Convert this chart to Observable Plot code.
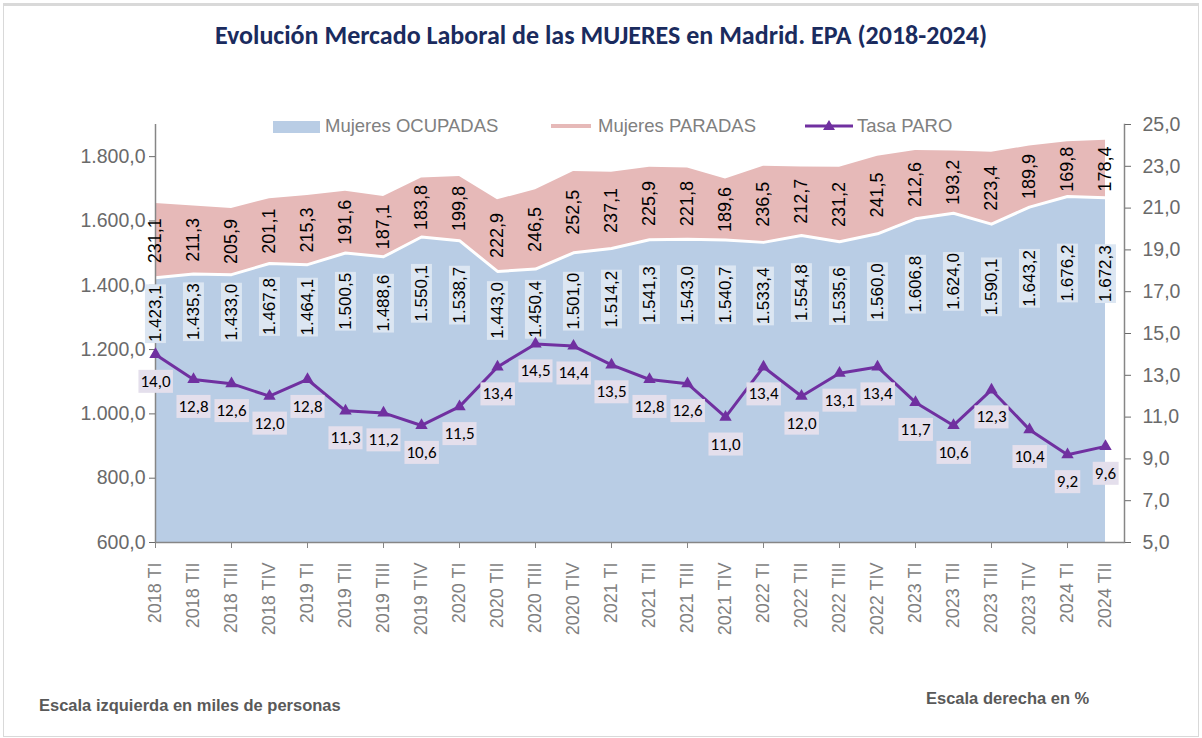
<!DOCTYPE html>
<html>
<head>
<meta charset="utf-8">
<script src="https://cdn.jsdelivr.net/npm/d3@7"></script>
<script src="https://cdn.jsdelivr.net/npm/@observablehq/plot@0.6"></script>
<style>
  body { margin: 0; background: #fff; }
  #wrap { position: relative; width: 1202px; height: 738px; overflow: hidden; font-family: "Liberation Sans", Arial, sans-serif; }
  #border { position: absolute; left: 3px; top: 3px; width: 1196px; height: 734px; box-sizing: border-box; border: 1px solid #d9d9d9; border-top: 3px solid #d9d9d9; }
  #chart { position: absolute; left: 0; top: 0; }
  #title { position: absolute; top: 19px; left: 0; width: 1202px; text-align: center; font-family: Carlito, Lato, "Open Sans", sans-serif; font-weight: bold; font-size: 26px; color: #1a2b5e; }
  .leg { position: absolute; top: 115px; font-size: 18.5px; color: #808080; white-space: nowrap; }
  .cap { position: absolute; font-weight: bold; font-size: 16.5px; color: #595959; }
</style>
</head>
<body>
<div id="wrap">
  <div id="border"></div>
  <div id="chart"></div>
  <div id="title">Evolución Mercado Laboral de las MUJERES en Madrid. EPA (2018-2024)</div>
  <svg class="leg" style="left:273px;top:121px" width="47" height="12"><rect width="47" height="12" fill="#b9cde5"/></svg>
  <div class="leg" style="left:325px">Mujeres OCUPADAS</div>
  <svg class="leg" style="left:551px;top:124px" width="40" height="5"><rect width="40" height="4" fill="#e6b9b8"/></svg>
  <div class="leg" style="left:598px">Mujeres PARADAS</div>
  <svg class="leg" style="left:805px;top:119px" width="48" height="14"><line x1="0" x2="48" y1="7" y2="7" stroke="#7030a0" stroke-width="3"/><path d="M24,1 L30,11 L18,11 Z" fill="#7030a0"/></svg>
  <div class="leg" style="left:857px">Tasa PARO</div>
  <div class="cap" style="left:39px;top:696px">Escala izquierda en miles de personas</div>
  <div class="cap" style="left:926px;top:689px">Escala derecha en %</div>
</div>
<script>
const periods = ["2018 TI","2018 TII","2018 TIII","2018 TIV",
  "2019 TI","2019 TII","2019 TIII","2019 TIV",
  "2020 TI","2020 TII","2020 TIII","2020 TIV",
  "2021 TI","2021 TII","2021 TIII","2021 TIV",
  "2022 TI","2022 TII","2022 TIII","2022 TIV",
  "2023 TI","2023 TII","2023 TIII","2023 TIV",
  "2024 TI","2024 TII"];
const ocupadas = [1423.1,1435.3,1433.0,1467.8,1464.1,1500.5,1488.6,1550.1,1538.7,1443.0,1450.4,1501.0,1514.2,1541.3,1543.0,1540.7,1533.4,1554.8,1535.6,1560.0,1606.8,1624.0,1590.1,1643.2,1676.2,1672.3];
const paradas = [231.1,211.3,205.9,201.1,215.3,191.6,187.1,183.8,199.8,222.9,246.5,252.5,237.1,225.9,221.8,189.6,236.5,212.7,231.2,241.5,212.6,193.2,223.4,189.9,169.8,178.4];
const tasaParo = [14.0,12.8,12.6,12.0,12.8,11.3,11.2,10.6,11.5,13.4,14.5,14.4,13.5,12.8,12.6,11.0,13.4,12.0,13.1,13.4,11.7,10.6,12.3,10.4,9.2,9.6];
const leftTicks = [600,800,1000,1200,1400,1600,1800];
const rightTicks = [5,7,9,11,13,15,17,19,21,23,25];
const leftDomain = [600,1900];
const rightDomain = [5,25];
const seriesNames = ["Mujeres OCUPADAS","Mujeres PARADAS"];

const fmt = d3.formatLocale({decimal: ",", thousands: ".", grouping: [3], currency: ["", "€"]}).format(",.1f");
const rows = periods.map((p, i) => ({period: p, ocup: ocupadas[i], par: paradas[i], tasa: tasaParo[i]}));
const long = rows.flatMap(d => [
  {period: d.period, serie: seriesNames[0], value: d.ocup},
  {period: d.period, serie: seriesNames[1], value: d.par}
]);
const yT = d3.scaleLinear(rightDomain, leftDomain);

const chart = Plot.plot({
  width: 1202, height: 738,
  marginTop: 124, marginBottom: 196, marginLeft: 155, marginRight: 78,
  style: {fontFamily: "'Liberation Sans', Arial, sans-serif", background: "transparent", color: "#6a6a6a"},
  x: {type: "point", domain: periods, padding: 0, insetRight: 19, label: null},
  y: {domain: leftDomain, label: null},
  color: {domain: seriesNames, range: ["#b9cde5", "#e6b9b8"]},
  marks: [
    Plot.areaY(long, {x: "period", y: "value", fill: "serie", order: seriesNames, clip: true}),
    Plot.lineY(rows, {x: "period", y: "ocup", stroke: "white", strokeWidth: 3}),
    Plot.ruleY([leftDomain[0]], {stroke: "#868686", strokeWidth: 1.5}),
    Plot.ruleX([periods[0]], {stroke: "#868686", strokeWidth: 1.5}),
    Plot.frame({anchor: "right", stroke: "#868686", strokeWidth: 1.5}),
    Plot.axisY(leftTicks, {anchor: "left", label: null, tickFormat: fmt, tickSize: 6, tickPadding: 4, fontSize: 19.5, color: "#6a6a6a"}),
    Plot.axisY(rightTicks.map(yT), {anchor: "right", label: null, tickFormat: d => fmt(yT.invert(d)), tickSize: 6, tickPadding: 12, fontSize: 19.5, color: "#6a6a6a"}),
    Plot.axisX(periods.filter((d, i) => i % 2 === 0), {label: null, tickSize: 6, tickFormat: () => "", color: "#868686"}),
    Plot.axisX(periods, {label: null, tickSize: 0, tickRotate: -90, tickPadding: 20, fontSize: 18, color: "#808080"}),
    Plot.text(rows, {x: "period", y: d => leftDomain[0] + d.ocup / 2, text: d => fmt(d.ocup), rotate: -90, fontSize: 17, fill: "#000", ariaDescription: "ocup-labels"}),
    Plot.text(rows, {x: "period", y: d => d.ocup + d.par / 2, text: d => fmt(d.par), rotate: -90, fontSize: 18, fill: "#000"}),
    Plot.line(rows, {x: "period", y: d => yT(d.tasa), stroke: "#7030a0", strokeWidth: 3}),
    Plot.dot(rows, {x: "period", y: d => yT(d.tasa), symbol: "triangle", r: 4.6, fill: "#7030a0"}),
    Plot.text(rows, {x: "period", y: d => yT(d.tasa), dy: 27, text: d => fmt(d.tasa), fontSize: 17, fontFamily: "Carlito, Lato, sans-serif", fill: "#000", ariaDescription: "tasa-labels"})
  ]
});
document.getElementById("chart").appendChild(chart);

function addBoxes(desc, fill, padX, padY) {
  chart.querySelectorAll(`g[aria-description="${desc}"] text`).forEach(t => {
    const b = t.getBBox();
    const r = document.createElementNS("http://www.w3.org/2000/svg", "rect");
    r.setAttribute("x", b.x - padX);
    r.setAttribute("y", b.y - padY);
    r.setAttribute("width", b.width + 2 * padX);
    r.setAttribute("height", b.height + 2 * padY);
    r.setAttribute("fill", fill);
    r.setAttribute("stroke", "none");
    if (t.getAttribute("transform")) r.setAttribute("transform", t.getAttribute("transform"));
    t.parentNode.insertBefore(r, t);
  });
}
addBoxes("ocup-labels", "#dce6f2", 1, 1);
addBoxes("tasa-labels", "#e4dfec", 2, 1);
</script>
</body>
</html>
